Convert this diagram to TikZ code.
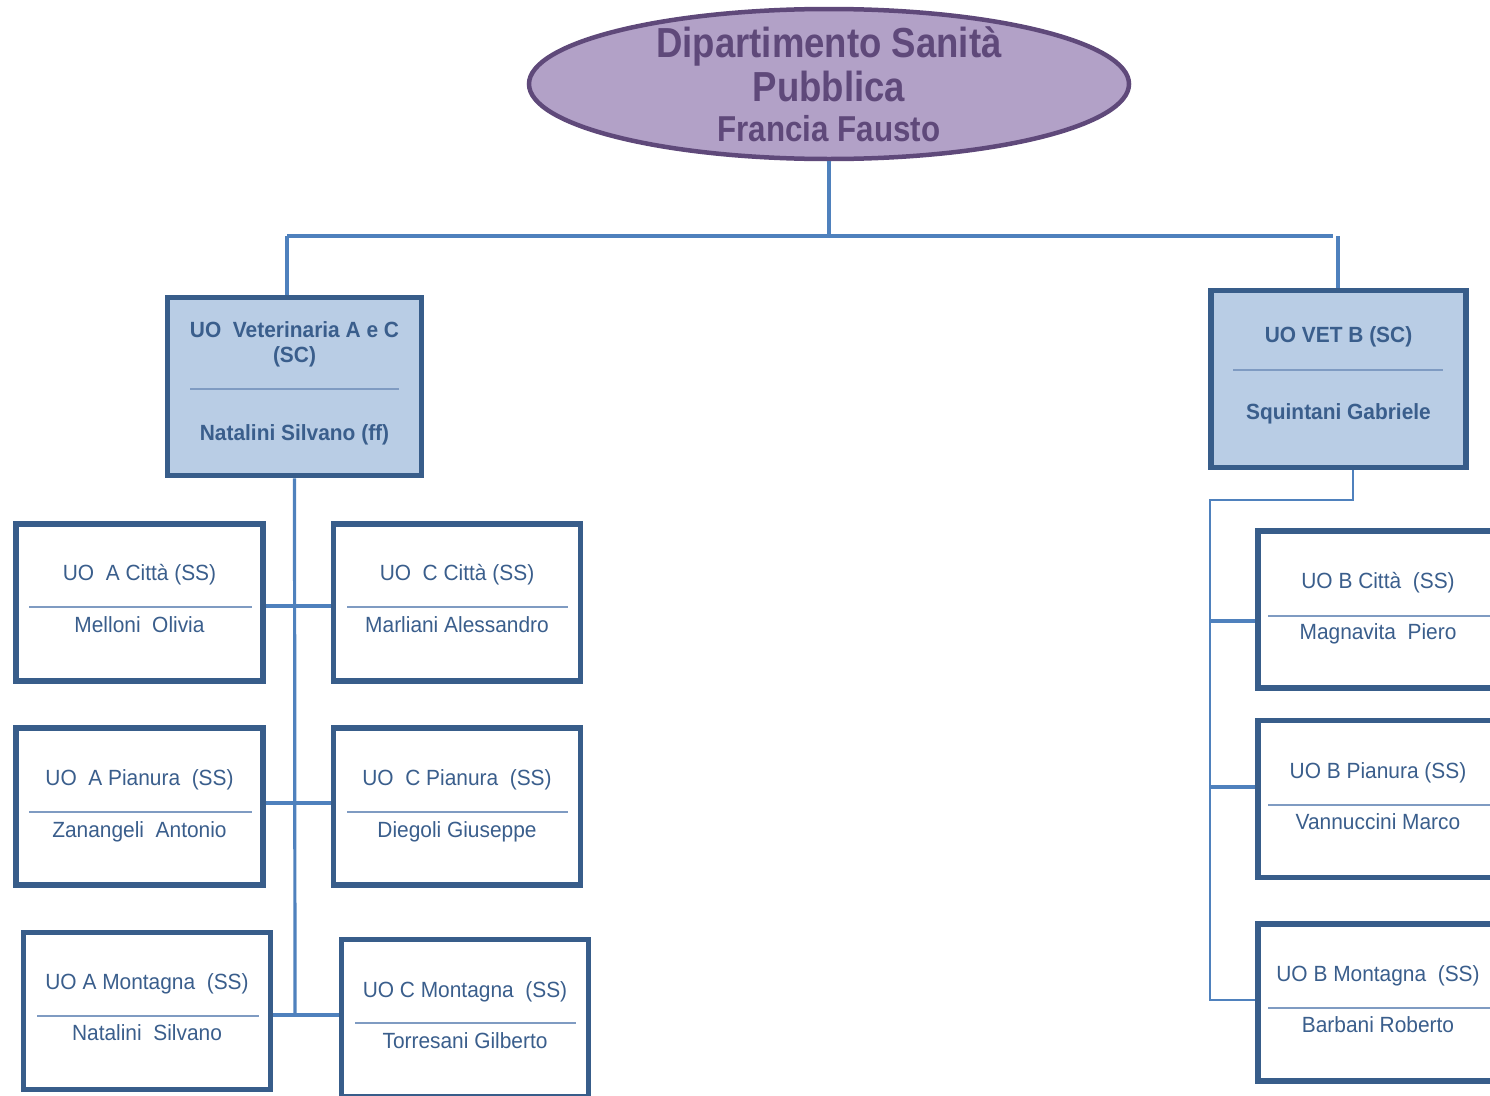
\documentclass[tikz,border=0pt]{standalone}
\usepackage{fontspec}
\setmainfont{Liberation Sans}
\newfontfamily\titlefont[FakeStretch=0.87]{Liberation Sans}
\newfontfamily\boxfont[FakeStretch=0.95]{Liberation Sans}
\usetikzlibrary{shapes.geometric}
\definecolor{conn}{HTML}{4F81BD}
\definecolor{bord}{HTML}{385D8A}
\definecolor{scfill}{HTML}{B9CDE5}
\definecolor{ellfill}{HTML}{B2A1C7}
\definecolor{ellbord}{HTML}{5F497A}
\definecolor{txt}{HTML}{3A5E8C}
\definecolor{rulec}{HTML}{7F9BC2}
\tikzset{
  ubox/.style={draw=bord, line width=5.5pt, fill=white, rectangle, inner sep=0pt, minimum width=247pt, minimum height=157pt},
  scbox/.style={draw=bord, line width=5.5pt, fill=scfill, rectangle, inner sep=0pt, minimum width=254pt, minimum height=178pt},
  sstext/.style={anchor=base, inner sep=0pt, text=txt, font=\boxfont\fontsize{22}{26}\selectfont},
  sctext/.style={anchor=base, inner sep=0pt, text=txt, font=\boxfont\bfseries\fontsize{22}{26}\selectfont},
  ttext/.style={anchor=base, inner sep=0pt, text=ellbord, font=\titlefont\bfseries},
  rul/.style={draw=rulec, line width=1.2pt},
  cn/.style={draw=conn, line width=3.2pt},
  cnthin/.style={draw=conn, line width=2.3pt},
}
\begin{document}
\begin{tikzpicture}[x=1pt,y=-1pt]
\useasboundingbox (0,0) rectangle (1490,1095);
\clip (0,0) rectangle (1490,1095);

% connectors (drawn first, boxes on top)
\coordinate (jt) at (829,236);
\coordinate (jl) at (287,236);
\coordinate (jr) at (1338,236);
\coordinate (trunkEnd) at (295,1015);
\coordinate (rb) at (1210,500);
\coordinate (rbEnd) at (1210,1000);

% department ellipse
\node[ellipse, draw=ellbord, line width=4.5pt, fill=ellfill, minimum width=600pt, minimum height=150pt, inner sep=0pt] (dept) at (829,84) {};
\node[ttext, font=\titlefont\bfseries\fontsize{42}{46}\selectfont] (t1) at (829,57) {Dipartimento Sanità};
\node[ttext, font=\titlefont\bfseries\fontsize{42}{46}\selectfont] (t2) at (829,101) {Pubblica};
\node[ttext, font=\titlefont\bfseries\fontsize{36}{40}\selectfont] (t3) at (829,141) {Francia Fausto};

% SC boxes
\node[scbox] (scL) at (294.5,386.5) {};
\node[sctext] (scL1) at (294.5,337) {UO\ \ Veterinaria A e C};
\node[sctext] (scL2) at (294.5,362) {(SC)};
\node[sctext] (scL3) at (294.5,440) {Natalini Silvano (ff)};
\draw[rul] (190,389) -- (399,389);

\node[scbox, minimum width=255pt, minimum height=177pt] (scR) at (1338.5,379) {};
\node[sctext] (scR1) at (1338.5,342) {UO VET B (SC)};
\node[sctext] (scR3) at (1338.5,419) {Squintani Gabriele};
\draw[rul] (1233,370) -- (1443,370);

% left children
\node[ubox] (aC) at (139.5,602.5) {};
\node[sstext] (aC1) at (139.5,580) {UO\ \ A Città (SS)};
\node[sstext] (aC2) at (139.5,632) {Melloni\ \ Olivia};
\draw[rul] (29,607) -- (252,607);

\node[ubox] (cC) at (457,602.5) {};
\node[sstext] (cC1) at (457,580) {UO\ \ C Città (SS)};
\node[sstext] (cC2) at (457,632) {Marliani Alessandro};
\draw[rul] (347,607) -- (568,607);

\node[ubox] (aP) at (139.5,806.5) {};
\node[sstext] (aP1) at (139.5,785) {UO\ \ A Pianura\ \ (SS)};
\node[sstext] (aP2) at (139.5,837) {Zanangeli\ \ Antonio};
\draw[rul] (29,812) -- (252,812);

\node[ubox] (cP) at (457,806.5) {};
\node[sstext] (cP1) at (457,785) {UO\ \ C Pianura\ \ (SS)};
\node[sstext] (cP2) at (457,837) {Diegoli Giuseppe};
\draw[rul] (347,812) -- (568,812);

\node[ubox] (aM) at (147,1011) {};
\node[sstext] (aM1) at (147,989) {UO A Montagna\ \ (SS)};
\node[sstext] (aM2) at (147,1040) {Natalini\ \ Silvano};
\draw[rul] (37,1016) -- (259,1016);

\node[ubox] (cM) at (465,1018) {};
\node[sstext] (cM1) at (465,997) {UO C Montagna\ \ (SS)};
\node[sstext] (cM2) at (465,1048) {Torresani Gilberto};
\draw[rul] (355,1023) -- (576,1023);

% right children
\node[ubox] (bC) at (1381.5,609.5) {};
\node[sstext] (bC1) at (1378,588) {UO B Città\ \ (SS)};
\node[sstext] (bC2) at (1378,639) {Magnavita\ \ Piero};
\draw[rul] (1268,616) -- (1490,616);

\node[ubox] (bP) at (1381.5,799) {};
\node[sstext] (bP1) at (1378,778) {UO B Pianura (SS)};
\node[sstext] (bP2) at (1378,829) {Vannuccini Marco};
\draw[rul] (1268,805) -- (1490,805);

\node[ubox] (bM) at (1381.5,1002.5) {};
\node[sstext] (bM1) at (1378,981) {UO B Montagna\ \ (SS)};
\node[sstext] (bM2) at (1378,1032) {Barbani Roberto};
\draw[rul] (1268,1008) -- (1490,1008);

% connectors
\draw[cn] (dept.south) -- (jt);
\draw[cn] (jl) -- (1333,236);
\draw[cn] (jl) -- (jl |- scL.north);
\draw[cn] (jr) -- (jr |- scR.north);

\draw[cn] (scL.south) -- (trunkEnd);
\draw[cn] (aC.east |- 0,606) -- (cC.west |- 0,606);
\draw[cn] (aP.east |- 0,803) -- (cP.west |- 0,803);
\draw[cn] (aM.east |- 0,1015) -- (cM.west |- 0,1015);

\draw[cnthin] ([xshift=14.5pt]scR.south) |- (rb) -- (rbEnd) -- (bM.west |- rbEnd);
\draw[cn] (1210,621) -- (bC.west |- 0,621);
\draw[cn] (1210,787) -- (bP.west |- 0,787);
\end{tikzpicture}
\end{document}
